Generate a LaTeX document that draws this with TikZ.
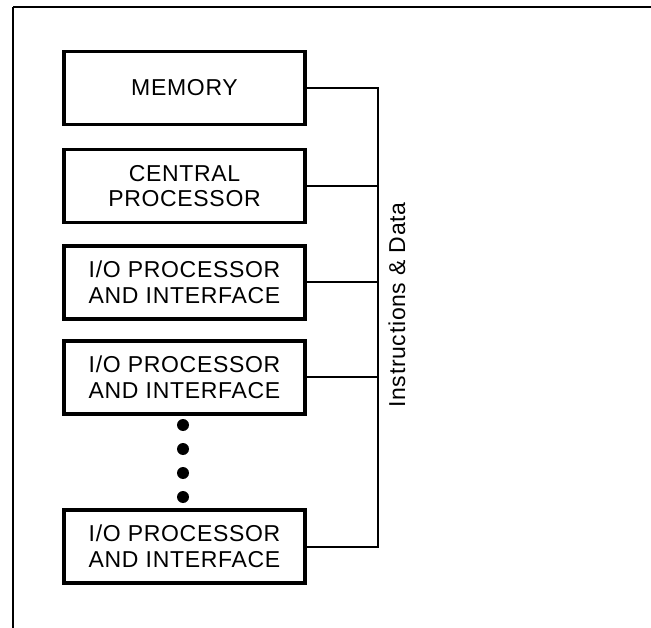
\documentclass[tikz,border=0pt]{standalone}
\usepackage{fontspec}
\setmainfont{Liberation Sans}[LetterSpace=3]
\begin{document}
\begin{tikzpicture}[x=1pt,y=-1pt,
  unit/.style={draw=black, line width=3.6pt, minimum width=241pt, minimum height=73pt,
    align=center, inner sep=0pt, font=\fontsize{23}{25.5}\selectfont},
  busline/.style={line width=2pt},
  dot/.style={circle, fill=black, inner sep=0pt, minimum size=12pt}]
\useasboundingbox (0,0) rectangle (651,628);
% page frame (top and left edges)
\draw[line width=2.6pt] (13,7) -- (651,7);
\draw[line width=1.2pt] (13,7) -- (13,628);

% system units
\node[unit] (mem) at (184.5,88) {MEMORY};
\node[unit] (cpu) at (184.5,186) {CENTRAL\\PROCESSOR};
\node[unit] (io1) at (184.5,282.5) {I/O PROCESSOR\\AND INTERFACE};
\node[unit] (io2) at (184.5,377.5) {I/O PROCESSOR\\AND INTERFACE};
\node[unit] (io3) at (184.5,546.5) {I/O PROCESSOR\\AND INTERFACE};

% ellipsis between the last two units
\node[dot] (d1) at (183,425) {};
\node[dot] (d2) at (183,449) {};
\node[dot] (d3) at (183,473) {};
\node[dot] (d4) at (183,497) {};

% common bus
\coordinate (btop) at (378,88);
\coordinate (bbot) at (378,546.5);
\draw[busline] (mem.east) -- (btop) -- (bbot) -- (io3.east);
\draw[busline] (cpu.east) -- (cpu.east -| btop);
\draw[busline] (io1.east) -- (io1.east -| btop);
\draw[busline] (io2.east) -- (io2.east -| btop);

\node[rotate=90, font=\fontsize{23}{25}\selectfont] (bus) at (397,305) {Instructions \& Data};
\end{tikzpicture}
\end{document}
